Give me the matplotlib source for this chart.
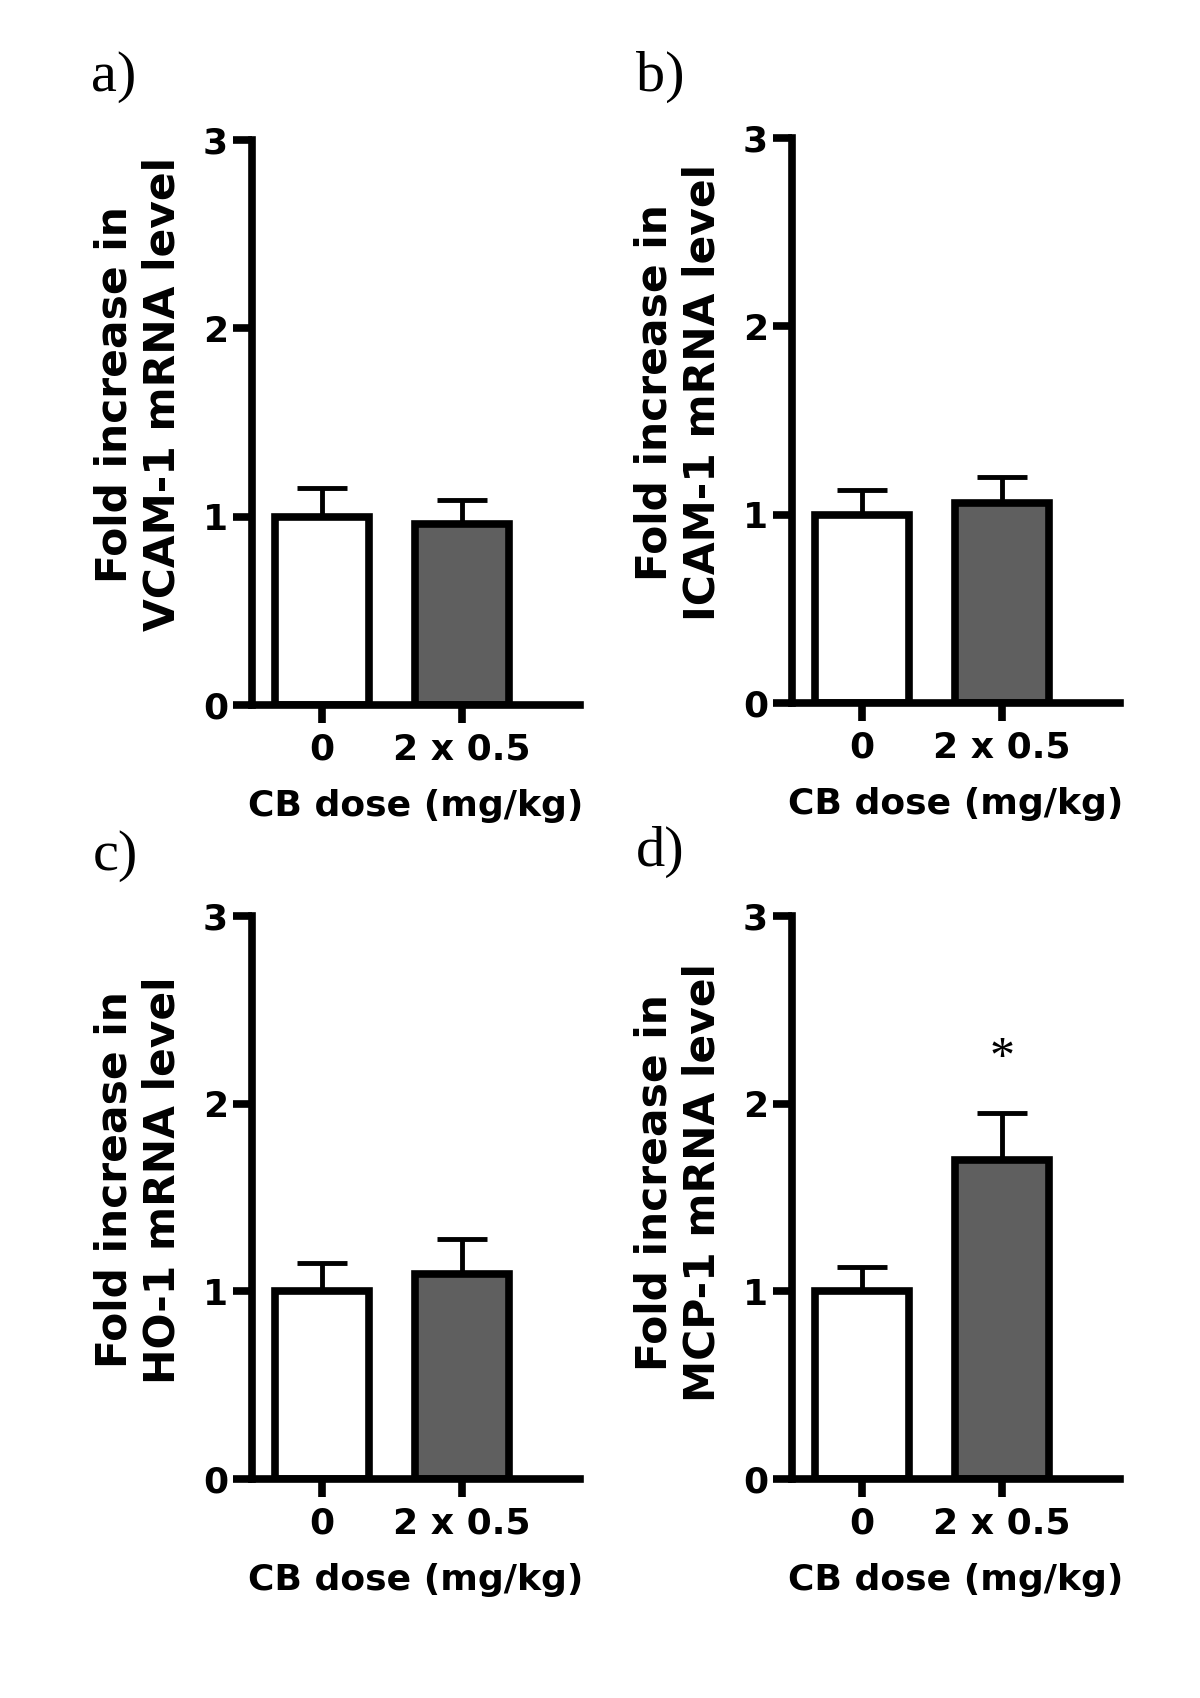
import numpy as np
import matplotlib
matplotlib.use("Agg")
import matplotlib.pyplot as plt

# data
doses = ['0', '2 x 0.5']
panel_tags = ['a)', 'b)', 'c)', 'd)']
genes = ['VCAM-1', 'ICAM-1', 'HO-1', 'MCP-1']
means = [[1.00, 0.96],
         [1.00, 1.06],
         [1.00, 1.09],
         [1.00, 1.70]]
sem_up = [[0.15, 0.13],
          [0.13, 0.14],
          [0.15, 0.19],
          [0.13, 0.25]]
signif = [['', ''], ['', ''], ['', ''], ['', '*']]
yticks = [0, 1, 2, 3]

plt.rcParams['font.family'] = 'DejaVu Sans'
plt.rcParams['font.weight'] = 'bold'

fig = plt.figure(figsize=(12, 16.98), dpi=100)

W, H = 1200, 1698
# axes boxes in pixels: (y-axis x, x-axis y, top y)
boxes = [(251.7, 705, 140), (791.7, 703, 138),
         (251.7, 1479, 916), (791.7, 1479, 916)]
tag_pos = [(91, 91), (636, 91), (93, 870), (636, 866)]
label_y = [0.550, 0.550, 0.531, 0.526]
xmin, xmax = -0.505, 1.85
width_px = (xmax - xmin) * 139.5
lw = 5.5
colors = ['white', '#5f5f5f']

for i in range(4):
    x0, yb, yt = boxes[i]
    ax = fig.add_axes([x0 / W, 1 - yb / H, width_px / W, (yb - yt) / H])
    x = np.arange(len(doses))
    ax.errorbar(x, means[i], yerr=[[0, 0], sem_up[i]], fmt='none',
                ecolor='black', elinewidth=3.5, capsize=18, capthick=3.5,
                zorder=1)
    ax.bar(x, means[i], width=0.675, color=colors, edgecolor='black',
           linewidth=lw, zorder=2)
    for j in range(len(doses)):
        if signif[i][j]:
            ax.text(x[j], means[i][j] + sem_up[i][j] + 0.29, signif[i][j],
                    ha='center', va='center', fontsize=36,
                    family='Liberation Serif', fontweight='normal')
    ax.set_xlim(xmin, xmax)
    ax.set_ylim(0, 3)
    ax.set_yticks(yticks)
    ax.set_xticks(x)
    ax.set_xticklabels(doses)
    for s in ['top', 'right']:
        ax.spines[s].set_visible(False)
    for s in ['left', 'bottom']:
        ax.spines[s].set_linewidth(lw)
        ax.spines[s].set_capstyle('projecting')
    ax.tick_params(axis='y', length=14, width=lw, pad=3, labelsize=26)
    ax.tick_params(axis='x', length=13, width=lw, pad=7, labelsize=26)
    ax.set_xlabel('CB dose (mg/kg)', fontsize=26, fontweight='bold',
                  labelpad=16)
    ax.text(-0.345, label_y[i], 'Fold increase in\n%s mRNA level' % genes[i],
            transform=ax.transAxes, rotation=90, ha='center', va='center',
            multialignment='center', fontsize=30.5, fontweight='bold',
            linespacing=1.2)
    ax.patch.set_visible(False)
    tx, ty = tag_pos[i]
    fig.text(tx / W, 1 - ty / H, panel_tags[i], ha='left', va='baseline',
             fontsize=42, family='Liberation Serif', fontweight='normal')

fig.savefig('out.png', dpi=100)
